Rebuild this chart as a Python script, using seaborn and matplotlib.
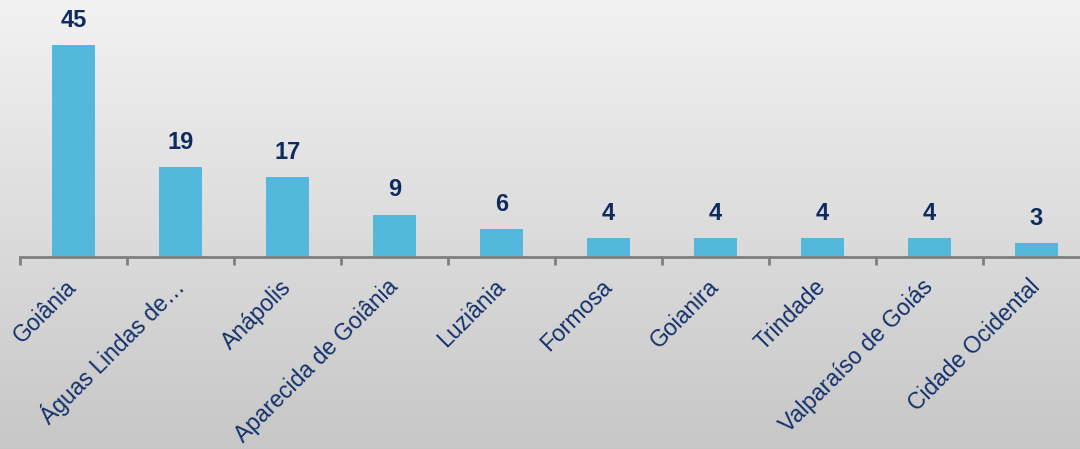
import numpy as np
import pandas as pd
import matplotlib
matplotlib.use("Agg")
import matplotlib.pyplot as plt
import seaborn as sns

categories = ["Goiânia", "Águas Lindas de…", "Anápolis", "Aparecida de Goiânia",
              "Luziânia", "Formosa", "Goianira", "Trindade",
              "Valparaíso de Goiás", "Cidade Ocidental"]
values = [45, 19, 17, 9, 6, 4, 4, 4, 4, 3]

sns.set_style("white")
plt.rcParams['font.family'] = ['Liberation Sans', 'DejaVu Sans']

W, H = 1080, 449
fig = plt.figure(figsize=(W / 100, H / 100), dpi=100)

# background gradient
bg = fig.add_axes([0, 0, 1, 1], zorder=-10)
grad = np.linspace(0, 1, 256).reshape(-1, 1)
top = np.array([0.95, 0.95, 0.95])
bot = np.array([0.78, 0.78, 0.78])
img = top + (bot - top) * grad[..., None]
bg.imshow(img, aspect='auto', extent=[0, 1, 0, 1], origin='upper')
bg.set_axis_off()

ppu = 212 / 45.0
ymax = 50
ax_left = 20 / W
ax_w = 1070 / W
ax_bottom = (H - 257) / H
ax_h = ymax * ppu / H
ax = fig.add_axes([ax_left, ax_bottom, ax_w, ax_h])
ax.patch.set_alpha(0)

df = pd.DataFrame({"cat": categories, "val": values})
sns.barplot(data=df, x="cat", y="val", color="#54B7DC", width=0.4,
            saturation=1, linewidth=0, edgecolor="none", ax=ax)

ax.set_xlim(-0.5, len(categories) - 0.5)
ax.set_ylim(0, ymax)
ax.set_xlabel("")
ax.set_ylabel("")
ax.set_yticks([])
for s in ["top", "right", "left"]:
    ax.spines[s].set_visible(False)
ax.spines["bottom"].set_color("#7F7F7F")
ax.spines["bottom"].set_linewidth(2)

ax.set_xticks(range(len(categories)))
ax.set_xticklabels(categories, rotation=45, ha='right', va='center',
                   rotation_mode='anchor', fontsize=16.5, color="#13306B")
ax.tick_params(axis='x', which='major', bottom=True, length=0, pad=19)
ax.set_xticks(np.arange(-0.5, len(categories), 1.0), minor=True)
ax.tick_params(axis='x', which='minor', bottom=True, length=6, width=2,
               color="#7F7F7F", direction='out')

for i, v in enumerate(values):
    ax.annotate(str(v), (i, v), xytext=(0, 9.5), textcoords='offset points',
                ha='center', va='bottom', fontsize=17,
                fontweight='bold', color="#0E2A5E")

fig.savefig("out.png", dpi=100)
